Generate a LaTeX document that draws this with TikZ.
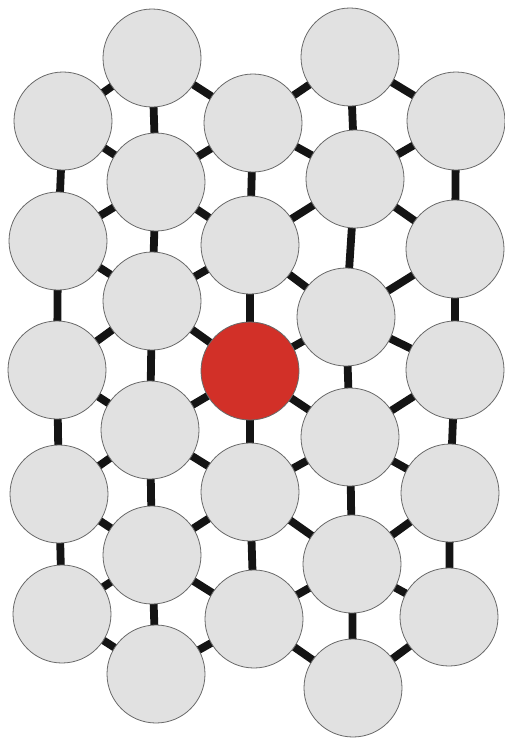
\documentclass[tikz,border=0pt]{standalone}
\usetikzlibrary{backgrounds}
\definecolor{ballgray}{RGB}{225,225,225}
\definecolor{ballred}{RGB}{210,48,40}
\definecolor{rimgray}{RGB}{105,105,105}
\tikzset{
  ball/.style={circle, minimum size=98pt, inner sep=0pt, fill=ballgray, draw=rimgray, line width=0.8pt},
  redball/.style={ball, fill=ballred},
  bond/.style={line width=7.8pt, draw=black!92}
}
\begin{document}
\begin{tikzpicture}[x=1pt,y=-1pt]
\useasboundingbox (0,0) rectangle (505,740);
% column 1
\node[ball] (a0) at (63,121) {};
\node[ball] (a1) at (58,241) {};
\node[ball] (a2) at (57,370) {};
\node[ball] (a3) at (59,494) {};
\node[ball] (a4) at (62,614) {};
% column 2
\node[ball] (b0) at (152,58) {};
\node[ball] (b1) at (156,182) {};
\node[ball] (b2) at (152,301) {};
\node[ball] (b3) at (150,430) {};
\node[ball] (b4) at (152,555) {};
\node[ball] (b5) at (156,674) {};
% column 3
\node[ball] (c0) at (253,123) {};
\node[ball] (c1) at (250,245) {};
\node[redball] (c2) at (250,371) {};
\node[ball] (c3) at (250,492) {};
\node[ball] (c4) at (254,619) {};
% column 4
\node[ball] (d0) at (350,57) {};
\node[ball] (d1) at (355,179) {};
\node[ball] (d2) at (346,317) {};
\node[ball] (d3) at (350,437) {};
\node[ball] (d4) at (352,564) {};
\node[ball] (d5) at (353,688) {};
% column 5
\node[ball] (e0) at (456,121) {};
\node[ball] (e1) at (455,249) {};
\node[ball] (e2) at (455,370) {};
\node[ball] (e3) at (450,493) {};
\node[ball] (e4) at (449,617) {};
\begin{scope}[on background layer]
% vertical bonds
\foreach \c/\n in {a/3,c/3,e/3} {
  \foreach \i [evaluate=\i as \j using int(\i+1)] in {0,...,\n} {
    \draw[bond] (\c\i.center) -- (\c\j.center);
  }
}
\foreach \c in {b,d} {
  \foreach \i [evaluate=\i as \j using int(\i+1)] in {0,...,4} {
    \draw[bond] (\c\i.center) -- (\c\j.center);
  }
}
% diagonal bonds
\foreach \o/\e in {a/b,c/b,c/d,e/d} {
  \foreach \i [evaluate=\i as \j using int(\i+1)] in {0,...,4} {
    \draw[bond] (\o\i.center) -- (\e\i.center);
    \draw[bond] (\o\i.center) -- (\e\j.center);
  }
}
\end{scope}
\end{tikzpicture}
\end{document}
